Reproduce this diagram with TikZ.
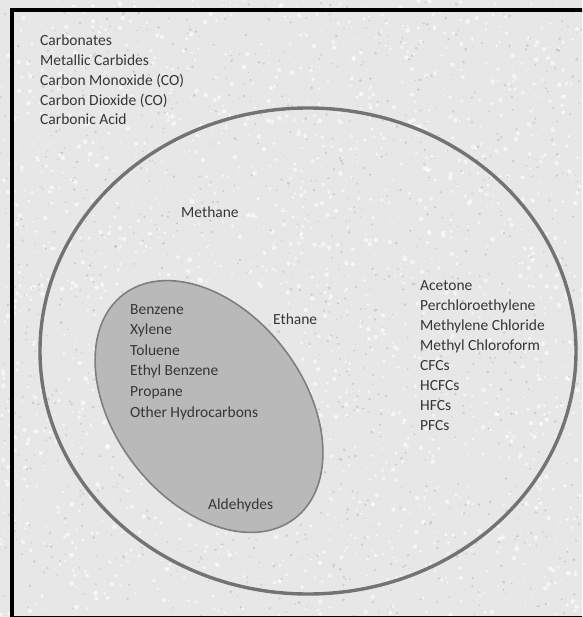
\documentclass[tikz,border=0pt]{standalone}
\usepackage{fontspec}
\setmainfont{Carlito}
\begin{document}
\begin{tikzpicture}[x=1pt,y=-1pt,
  label/.style={inner sep=0pt, anchor=base west, align=left, text=ink,
    font=\fontsize{15.5}{20}\selectfont},
  ring/.style={draw=ringgray, line width=3.4pt},
  core/.style={draw=coregray, fill=corefill, line width=1.6pt}]
\definecolor{paper}{HTML}{E7E7E7}
\definecolor{ink}{HTML}{363636}
\definecolor{ringgray}{HTML}{737373}
\definecolor{coregray}{HTML}{7E7E7E}
\definecolor{corefill}{HTML}{B9B9B9}
\useasboundingbox (0,0) rectangle (582,617);
\clip (0,0) rectangle (582,617);
% speckled paper
\fill[paper] (0,0) rectangle (582,617);
\pgfmathsetseed{11}
\foreach \i in {1,...,1800}{
  \pgfmathsetmacro\px{rnd*582}
  \pgfmathsetmacro\py{rnd*617}
  \pgfmathsetmacro\pr{0.8+rnd*1.6}
  \fill[white,opacity=0.6] (\px,\py) circle (\pr);
}
\foreach \i in {1,...,1200}{
  \pgfmathsetmacro\px{rnd*582}
  \pgfmathsetmacro\py{rnd*617}
  \pgfmathsetmacro\pr{0.5+rnd*1.0}
  \fill[black!30,opacity=0.5] (\px,\py) circle (\pr);
}
% frame
\draw[black, line width=4pt] (12,10) rectangle (640,617.5);
% carbon compounds ring and hydrocarbon core
\draw[ring] (308,351) ellipse [x radius=268, y radius=243];
\draw[core, rotate around={37.4:(209,406.5)}] (209,406.5) ellipse [x radius=94.6, y radius=141];
% labels (multi-line labels are placed by the baseline of their last line)
\node[label, font=\fontsize{15.5}{19.75}\selectfont] (inorganic) at (40,125) {Carbonates\\Metallic Carbides\\Carbon Monoxide (CO)\\Carbon Dioxide (CO)\\Carbonic Acid};
\node[label] (methane) at (181,218) {Methane};
\node[label] (ethane) at (273,324) {Ethane};
\node[label, font=\fontsize{15.5}{20.6}\selectfont] (aromatics) at (130,417) {Benzene\\Xylene\\Toluene\\Ethyl Benzene\\Propane\\Other Hydrocarbons};
\node[label] (aldehydes) at (208,509) {Aldehydes};
\node[label, font=\fontsize{15.5}{20.1}\selectfont] (halogenated) at (420,430.7) {Acetone\\Perchloroethylene\\Methylene Chloride\\Methyl Chloroform\\CFCs\\HCFCs\\HFCs\\PFCs};
\end{tikzpicture}
\end{document}
